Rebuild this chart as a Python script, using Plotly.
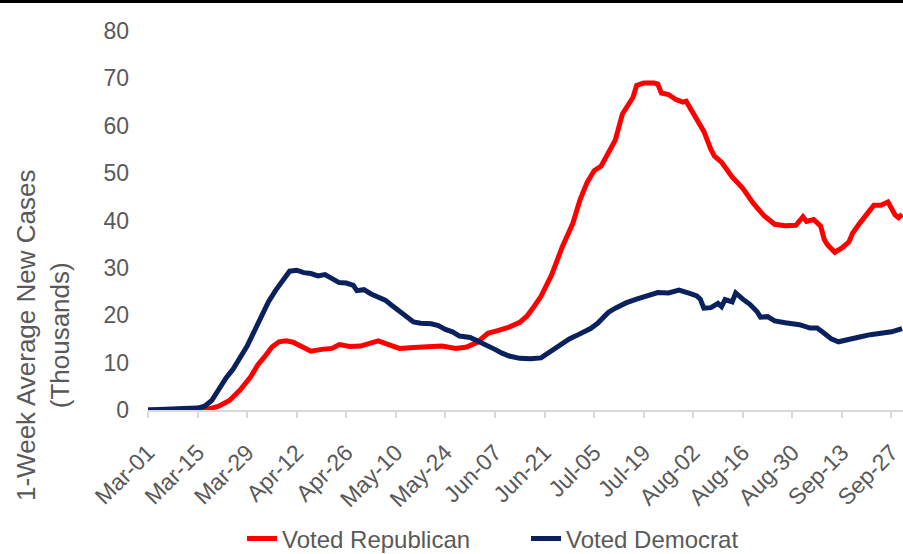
import plotly.graph_objects as go

# 1-week average of new COVID-19 cases (thousands), by 2016 county vote
rep_dates = [
    "2020-03-01", "2020-03-15", "2020-03-17", "2020-03-19", "2020-03-21", "2020-03-24",
    "2020-03-27", "2020-03-30", "2020-04-01", "2020-04-03", "2020-04-05", "2020-04-07",
    "2020-04-09", "2020-04-11", "2020-04-13", "2020-04-16", "2020-04-19", "2020-04-22",
    "2020-04-24", "2020-04-27", "2020-04-30", "2020-05-03", "2020-05-05", "2020-05-08",
    "2020-05-11", "2020-05-15", "2020-05-19", "2020-05-23", "2020-05-27", "2020-05-30",
    "2020-06-02", "2020-06-05", "2020-06-08", "2020-06-11", "2020-06-14", "2020-06-16",
    "2020-06-18", "2020-06-20", "2020-06-23", "2020-06-26", "2020-06-29", "2020-07-01",
    "2020-07-03", "2020-07-05", "2020-07-07", "2020-07-09", "2020-07-11", "2020-07-13",
    "2020-07-15", "2020-07-16", "2020-07-17", "2020-07-19", "2020-07-22", "2020-07-23",
    "2020-07-24", "2020-07-26", "2020-07-28", "2020-07-30", "2020-07-31", "2020-08-03",
    "2020-08-05", "2020-08-07", "2020-08-08", "2020-08-10", "2020-08-13", "2020-08-16",
    "2020-08-19", "2020-08-22", "2020-08-25", "2020-08-28", "2020-08-31", "2020-09-02",
    "2020-09-03", "2020-09-05", "2020-09-07", "2020-09-08", "2020-09-09", "2020-09-11",
    "2020-09-13", "2020-09-15", "2020-09-16", "2020-09-18", "2020-09-20", "2020-09-22",
    "2020-09-24", "2020-09-26", "2020-09-28", "2020-09-29", "2020-09-30",
]
rep_cases = [
    0.0, 0.0, 0.1, 0.4, 0.8, 2.0,
    4.2, 7.0, 9.5, 11.3, 13.3, 14.4,
    14.6, 14.3, 13.6, 12.4, 12.8, 13.0,
    13.8, 13.4, 13.5, 14.3, 14.6, 13.8,
    13.0, 13.2, 13.4, 13.5, 13.0, 13.3,
    14.3, 16.2, 16.8, 17.5, 18.5, 19.8,
    21.8, 24.0, 28.5, 34.4, 39.4, 44.3,
    48.0, 50.5, 51.5, 54.2, 57.0, 62.5,
    65.0, 66.0, 68.5, 69.0, 69.0, 68.8,
    66.9, 66.6, 65.6, 65.0, 65.2, 61.2,
    58.8, 55.0, 53.6, 52.3, 49.2, 46.8,
    43.6, 41.0, 39.2, 38.9, 39.0, 40.8,
    39.8, 40.2, 38.8, 36.0, 34.8, 33.3,
    34.2, 35.5, 37.3, 39.4, 41.2, 43.2,
    43.2, 43.9, 41.2, 40.6, 41.3,
]

dem_dates = [
    "2020-03-01", "2020-03-10", "2020-03-11", "2020-03-15", "2020-03-17", "2020-03-19",
    "2020-03-21", "2020-03-23", "2020-03-25", "2020-03-27", "2020-03-29", "2020-03-31",
    "2020-04-02", "2020-04-04", "2020-04-06", "2020-04-08", "2020-04-10", "2020-04-12",
    "2020-04-14", "2020-04-16", "2020-04-18", "2020-04-20", "2020-04-22", "2020-04-24",
    "2020-04-26", "2020-04-28", "2020-04-29", "2020-05-01", "2020-05-03", "2020-05-05",
    "2020-05-07", "2020-05-09", "2020-05-11", "2020-05-13", "2020-05-15", "2020-05-17",
    "2020-05-20", "2020-05-22", "2020-05-24", "2020-05-26", "2020-05-28", "2020-05-31",
    "2020-06-03", "2020-06-05", "2020-06-07", "2020-06-09", "2020-06-11", "2020-06-14",
    "2020-06-17", "2020-06-20", "2020-06-22", "2020-06-24", "2020-06-26", "2020-06-28",
    "2020-06-30", "2020-07-02", "2020-07-04", "2020-07-06", "2020-07-09", "2020-07-11",
    "2020-07-14", "2020-07-17", "2020-07-20", "2020-07-23", "2020-07-26", "2020-07-29",
    "2020-08-01", "2020-08-03", "2020-08-04", "2020-08-05", "2020-08-07", "2020-08-09",
    "2020-08-10", "2020-08-11", "2020-08-13", "2020-08-14", "2020-08-16", "2020-08-18",
    "2020-08-20", "2020-08-21", "2020-08-23", "2020-08-25", "2020-08-28", "2020-09-01",
    "2020-09-04", "2020-09-06", "2020-09-08", "2020-09-10", "2020-09-12", "2020-09-15",
    "2020-09-18", "2020-09-21", "2020-09-24", "2020-09-27", "2020-09-30",
]
dem_cases = [
    0.0, 0.05, 0.3, 0.4, 0.8, 2.0,
    4.5, 6.7, 8.6, 11.0, 13.5, 16.6,
    19.9, 22.8, 25.2, 27.2, 29.3, 29.5,
    29.0, 28.8, 28.3, 28.6, 27.8, 26.9,
    26.8, 26.3, 25.2, 25.4, 24.5, 23.8,
    23.2, 22.0, 20.8, 19.8, 18.6, 18.3,
    18.2, 17.8, 17.0, 16.5, 15.6, 15.3,
    14.3, 13.7, 12.8, 12.0, 11.4, 10.9,
    10.8, 11.0, 12.0, 13.0, 14.1, 15.0,
    15.7, 16.5, 17.2, 18.3, 20.6, 21.5,
    22.6, 23.4, 24.2, 24.8, 24.7, 25.3,
    24.6, 24.1, 23.4, 21.5, 21.6, 22.5,
    21.8, 23.3, 22.8, 24.7, 23.4, 22.3,
    20.8, 19.6, 19.7, 18.8, 18.4, 18.0,
    17.3, 17.3, 16.2, 15.0, 14.4, 14.8,
    15.4, 15.9, 16.1, 16.5, 17.2,
]

tick_dates = [
    "2020-03-01", "2020-03-15", "2020-03-29", "2020-04-12", "2020-04-26", "2020-05-10",
    "2020-05-24", "2020-06-07", "2020-06-21", "2020-07-05", "2020-07-19", "2020-08-02",
    "2020-08-16", "2020-08-30", "2020-09-13", "2020-09-27",
]
tick_labels = [
    "Mar-01", "Mar-15", "Mar-29", "Apr-12", "Apr-26", "May-10",
    "May-24", "Jun-07", "Jun-21", "Jul-05", "Jul-19", "Aug-02",
    "Aug-16", "Aug-30", "Sep-13", "Sep-27",
]

FONT = "Liberation Sans, Arial, sans-serif"
GREY = "#595959"

fig = go.Figure()
fig.add_trace(go.Scatter(
    x=rep_dates, y=rep_cases, mode="lines", name="Voted Republican",
    line=dict(color="#FF0000", width=5),
))
fig.add_trace(go.Scatter(
    x=dem_dates, y=dem_cases, mode="lines", name="Voted Democrat",
    line=dict(color="#0B215E", width=5),
))

fig.update_layout(
    width=903, height=554,
    margin=dict(l=148, r=0, t=31, b=144, autoexpand=False),
    paper_bgcolor="white", plot_bgcolor="white",
    font=dict(family=FONT, color=GREY, size=23),
    showlegend=True,
    legend=dict(
        orientation="h", x=0.1245, xanchor="left", y=-0.34, yanchor="middle",
        font=dict(size=24, color=GREY), bgcolor="rgba(0,0,0,0)",
        entrywidth=239, entrywidthmode="pixels",
    ),
    xaxis=dict(
        range=["2020-03-01", "2020-09-30 06:00"],
        tickmode="array", tickvals=tick_dates, ticktext=tick_labels,
        tickangle=-45, ticks="outside", ticklen=6, tickcolor="#D9D9D9", tickwidth=1.5,
        showline=True, linecolor="#D9D9D9", linewidth=2,
        showgrid=False, zeroline=False, automargin=False,
        ticklabeloverflow="allow", ticklabelstandoff=12,
        tickfont=dict(size=23, color=GREY),
    ),
    yaxis=dict(
        range=[0, 80], tickmode="linear", tick0=0, dtick=10,
        showgrid=False, zeroline=False, showline=False, ticks="",
        ticklabelstandoff=18, automargin=False,
        tickfont=dict(size=23, color=GREY),
    ),
    annotations=[dict(
        text="1-Week Average New Cases<br>(Thousands)",
        xref="paper", yref="paper", x=(43 - 148) / 755, y=(410 - 336) / 379,
        xanchor="center", yanchor="middle", textangle=-90, showarrow=False,
        font=dict(size=26, color=GREY, family=FONT),
    )],
    shapes=[dict(
        type="rect", xref="paper", yref="paper",
        x0=-148 / 755, x1=1.0, y0=(410 - 3) / 379, y1=410 / 379,
        fillcolor="black", line=dict(width=0), layer="above",
    )],
)

fig.write_html("out.html")
